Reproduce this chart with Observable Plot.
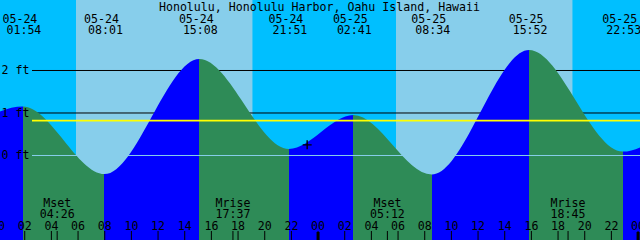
<!DOCTYPE html>
<html>
<head>
<meta charset="utf-8">
<script src="https://cdn.jsdelivr.net/npm/d3@7"></script>
<script src="https://cdn.jsdelivr.net/npm/@observablehq/plot@0.6"></script>
<style>
  html, body { margin: 0; padding: 0; overflow: hidden; background: #00BFFF; }
  svg { display: block; overflow: hidden; }
</style>
</head>
<body>
<div id="chart"></div>
<script>
// ---------- data ----------
const title = "Honolulu, Honolulu Harbor, Oahu Island, Hawaii";
const windowStart = "05-24 00:11";
const windowEnd = "05-26 00:11";

// high/low tide extremes (first and last lie just outside the window)
const tideTimes   = ["05-23 20:00", "05-24 01:54", "05-24 08:01", "05-24 15:08", "05-24 21:51",
                     "05-25 02:41", "05-25 08:34", "05-25 15:52", "05-25 22:53", "05-26 03:40"];
const tideHeights = [0.10, 1.14, -0.45, 2.26, 0.14, 0.94, -0.46, 2.47, 0.08, 1.05];

// sunrise / sunset
const sunTimes = ["05-24 05:53", "05-24 19:08", "05-25 05:53", "05-25 19:08"];

// moon events
const moonTimes = ["05-24 04:26", "05-24 17:37", "05-25 05:12", "05-25 18:45"];
const moonKinds = ["Mset", "Mrise", "Mset", "Mrise"];

// depth reference lines
const depthLines = [1, 2];
const depthLabels = ["0 ft", "1 ft", "2 ft"];
const depthLabelValues = [0, 1, 2];
const datumLine = 0;
const meanLevel = 0.82;

// current-time marker
const nowTime = "05-24 23:11";
const nowHeight = 0.25;

// ---------- styling ----------
const nightColor = "#00BFFF";
const dayColor = "#87CEEB";
const floodColor = "#0000FF";
const ebbColor = "#2E8B57";
const font = "DejaVu Sans Mono";
const fs = 11.6;

// ---------- build tables ----------
const parse = d3.utcParse("%m-%d %H:%M");
const t0 = parse(windowStart), t1 = parse(windowEnd);
const tide = tideTimes.map((t, i) => ({time: parse(t), height: tideHeights[i]}));
const events = tide.filter(d => d.time >= t0 && d.time <= t1);

const sunDates = sunTimes.map(parse);
const bounds = [t0, ...sunDates, t1];
const sky = d3.range(bounds.length - 1).map(i => ({
  start: bounds[i], end: bounds[i + 1], kind: i % 2 === 0 ? "night" : "day"
}));

const moon = moonTimes.map((t, i) => ({time: parse(t), kind: moonKinds[i]}));
const hourTicks = d3.utcHour.every(2).range(d3.utcDay.floor(t0), d3.utcHour.offset(t1, 1));
const midnights = d3.utcDay.range(d3.utcDay.floor(t0), d3.utcHour.offset(t1, 1));
const depth = depthLabelValues.map((v, i) => ({v, label: depthLabels[i]}));

const fmtH = d3.utcFormat("%H");
const fmtDate = d3.utcFormat("%m-%d");
const fmtTime = d3.utcFormat("%H:%M");

// gradient giving blue for rising, green for falling sections
const tideGradient = (index, scales, values, dims) => {
  const x = scales.x;
  const W = dims.width;
  const clamp = v => Math.max(0, Math.min(1, v));
  const defs = d3.create("svg:defs");
  const g = defs.append("linearGradient")
    .attr("id", "tideFill")
    .attr("gradientUnits", "userSpaceOnUse")
    .attr("x1", 0).attr("x2", W).attr("y1", 0).attr("y2", 0);
  for (let i = 0; i < tide.length - 1; i++) {
    const c = tide[i + 1].height > tide[i].height ? floodColor : ebbColor;
    g.append("stop").attr("offset", clamp(x(tide[i].time) / W)).attr("stop-color", c);
    g.append("stop").attr("offset", clamp(x(tide[i + 1].time) / W)).attr("stop-color", c);
  }
  return defs.node();
};

const plusSymbol = {
  draw(ctx, size) {
    const r = Math.sqrt(size / Math.PI);
    ctx.moveTo(-r, 0); ctx.lineTo(r, 0);
    ctx.moveTo(0, -r); ctx.lineTo(0, r);
  }
};

const yMin = -2, yMax = 3.647;

const chart = Plot.plot({
  width: 640,
  height: 240,
  margin: 0,
  style: {background: nightColor, overflow: "hidden"},
  x: {type: "utc", domain: [t0, t1], axis: null},
  y: {domain: [yMin, yMax], axis: null},
  marks: [
    tideGradient,
    // sky bands
    Plot.rect(sky, {x1: "start", x2: "end", fill: d => d.kind === "day" ? dayColor : nightColor}),
    // depth lines behind the water
    Plot.ruleY(depthLines, {stroke: "black", strokeWidth: 1, insetLeft: 32}),
    // water
    Plot.areaY(tide, {x: "time", y1: () => yMin, y2: "height", curve: "monotone-x",
                      fill: "url(#tideFill)", clip: true}),
    // datum and mean level lines on top
    Plot.ruleY([datumLine], {stroke: dayColor, strokeWidth: 1, insetLeft: 32}),
    Plot.ruleY([meanLevel], {stroke: "yellow", strokeWidth: 1.6, insetLeft: 32}),
    // now marker
    Plot.dot([{time: parse(nowTime), height: nowHeight}],
             {x: "time", y: "height", r: 4.5, symbol: plusSymbol, stroke: "black", strokeWidth: 1.4, fill: "none"}),
    // depth labels
    Plot.text(depth, {y: "v", text: "label", frameAnchor: "left", textAnchor: "start", lineAnchor: "bottom",
                      dx: 1, dy: 3.8, fill: "black", fontFamily: font, fontSize: fs}),
    // title
    Plot.text([title], {text: d => d, frameAnchor: "top", lineAnchor: "bottom", dy: 10, dx: -1,
                        fill: "black", fontFamily: font, fontSize: fs}),
    // tide event labels
    Plot.text(events, {x: "time", text: d => fmtDate(d.time), frameAnchor: "top", lineAnchor: "bottom",
                       dy: 22, dx: -3.5, fill: "black", fontFamily: font, fontSize: fs}),
    Plot.text(events, {x: "time", text: d => fmtTime(d.time), frameAnchor: "top", lineAnchor: "bottom",
                       dy: 33.3, dx: 0.5, fill: "black", fontFamily: font, fontSize: fs}),
    // moon labels
    Plot.text(moon, {x: "time", text: "kind", frameAnchor: "bottom", lineAnchor: "bottom",
                     dy: 206 - 240, fill: "black", fontFamily: font, fontSize: fs}),
    Plot.text(moon, {x: "time", text: d => fmtTime(d.time), frameAnchor: "bottom", lineAnchor: "bottom",
                     dy: 217 - 240, fill: "black", fontFamily: font, fontSize: fs}),
    // hour axis
    Plot.tickX(hourTicks, {x: d => d, stroke: "black", strokeWidth: 1, insetTop: 231}),
    Plot.tickX(moon, {x: "time", stroke: "black", strokeWidth: 1, insetTop: 231}),
    Plot.tickX(midnights, {x: d => d, stroke: "black", strokeWidth: 3, insetTop: 232}),
    Plot.text(hourTicks, {x: d => d, text: d => fmtH(d), frameAnchor: "bottom", lineAnchor: "bottom",
                          dy: 229.3 - 240, fill: "black", fontFamily: font, fontSize: fs})
  ]
});

document.getElementById("chart").appendChild(chart);
</script>
</body>
</html>
